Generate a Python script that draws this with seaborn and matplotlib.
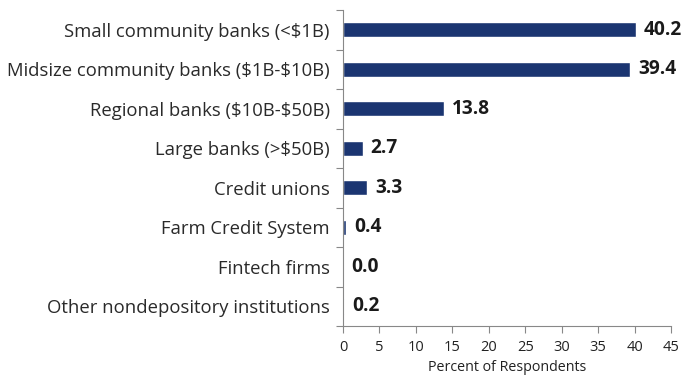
import matplotlib
matplotlib.use("Agg")
import matplotlib.pyplot as plt
import seaborn as sns
import pandas as pd
import numpy as np
from matplotlib.ticker import FixedLocator

categories = [
    "Small community banks (<$1B)",
    "Midsize community banks ($1B-$10B)",
    "Regional banks ($10B-$50B)",
    "Large banks (>$50B)",
    "Credit unions",
    "Farm Credit System",
    "Fintech firms",
    "Other nondepository institutions",
]
values = [40.2, 39.4, 13.8, 2.7, 3.3, 0.4, 0.0, 0.2]
x_ticks = [0, 5, 10, 15, 20, 25, 30, 35, 40, 45]

sns.set_theme(style="white")
plt.rcParams["font.family"] = ["Open Sans", "DejaVu Sans"]

df = pd.DataFrame({"category": categories, "value": values})

fig = plt.figure(figsize=(6.86, 3.79), dpi=100)
ax = fig.add_axes([343 / 686, 1 - 326 / 379, (671 - 343) / 686, (326 - 10) / 379])

bar_color = "#1b3571"
sns.barplot(data=df, y="category", x="value", orient="h", color=bar_color,
            width=0.38, ax=ax, saturation=1)

for i, v in enumerate(values):
    ax.text(v + 1.1, i, f"{v:.1f}", va="center", ha="left",
            fontsize=13.8, fontweight="bold", color="#1a1a1a")

ax.set_xlim(0, 45)
ax.set_ylim(len(categories) - 0.5, -0.5)
ax.set_xticks(x_ticks)
ax.set_xticklabels([str(t) for t in x_ticks], fontsize=10.5, color="#222222")
ax.set_xlabel("Percent of Respondents", fontsize=10.3, color="#222222", labelpad=4)
ax.set_ylabel("")

ax.set_yticks(range(len(categories)))
ax.set_yticklabels(categories, fontsize=13.3, color="#2a2a2a")
for lbl in ax.get_yticklabels():
    lbl.set_parse_math(False)
ax.tick_params(axis="y", which="major", length=0, pad=9.5)
ax.yaxis.set_minor_locator(FixedLocator(np.arange(-0.5, len(categories), 1.0)))
ax.tick_params(axis="y", which="minor", left=True, length=5, width=0.8, color="#888888")
ax.tick_params(axis="x", which="major", bottom=True, length=5, width=0.8,
               color="#888888", pad=5)

for side in ["top", "right"]:
    ax.spines[side].set_visible(False)
for side in ["left", "bottom"]:
    ax.spines[side].set_color("#888888")
    ax.spines[side].set_linewidth(0.8)

fig.savefig("out.png", dpi=100)
